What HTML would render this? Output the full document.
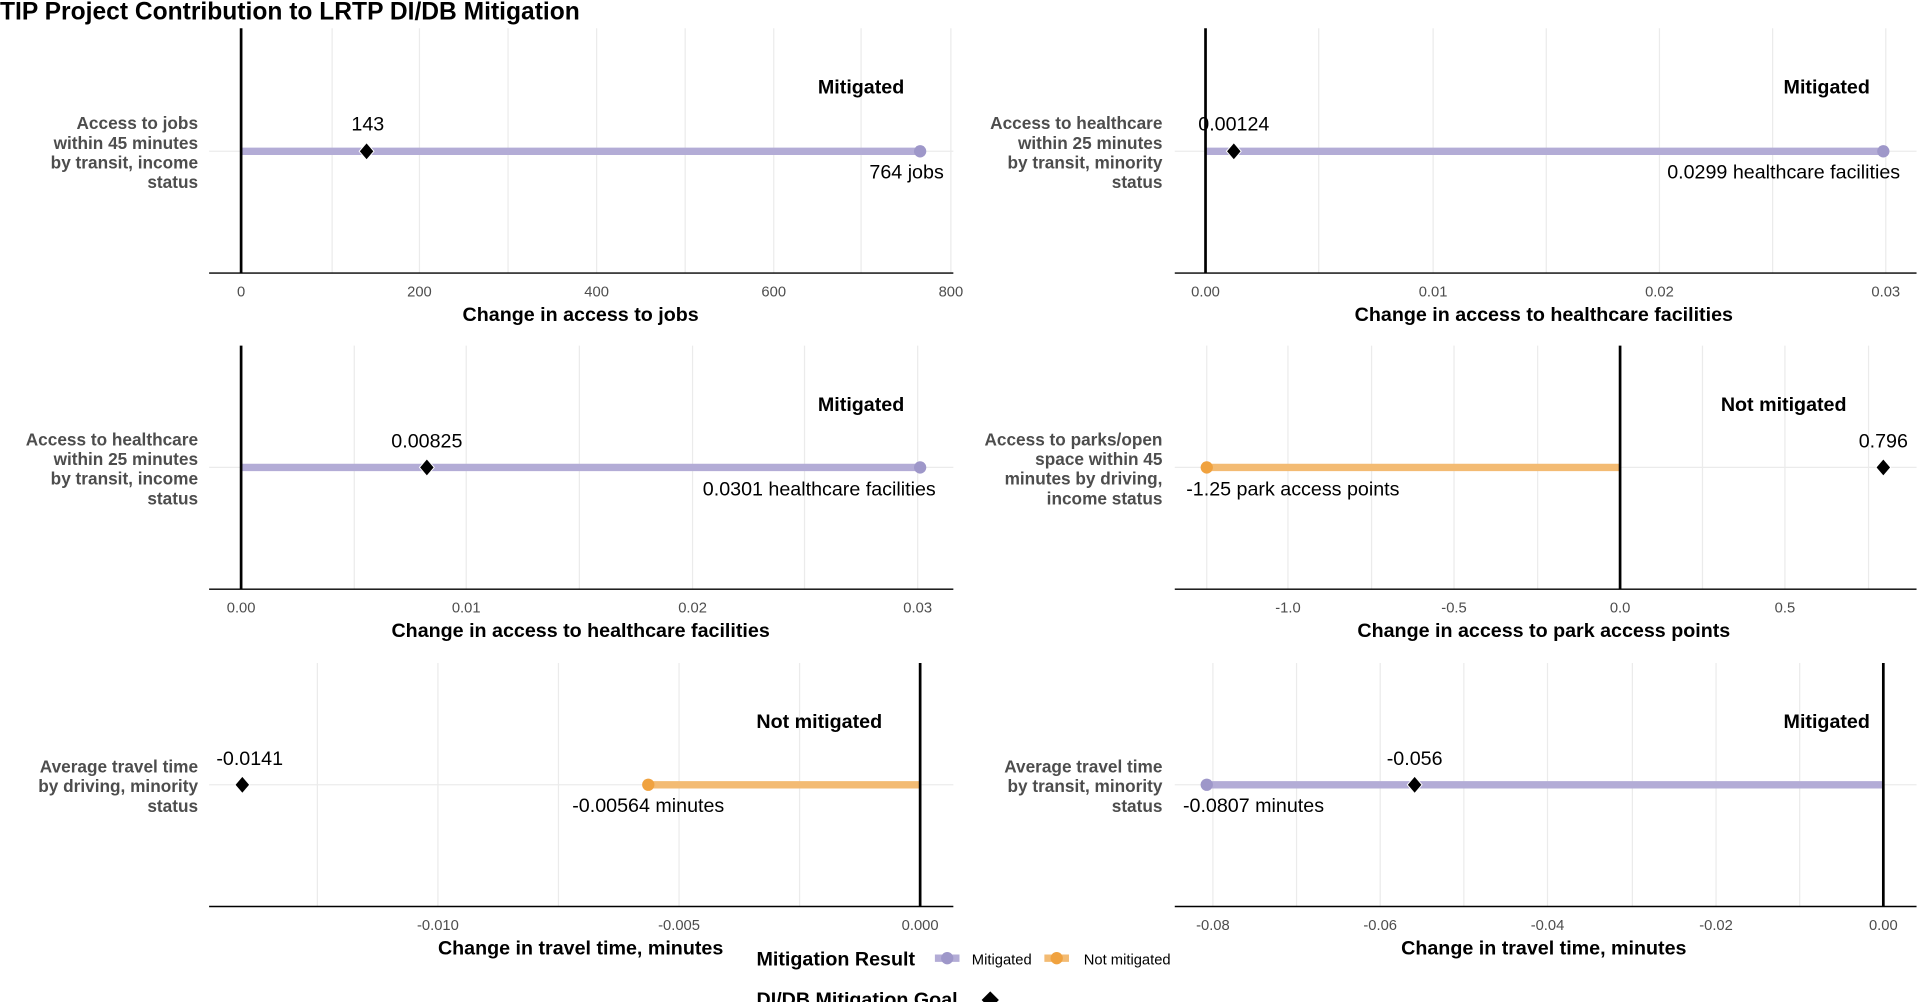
<!DOCTYPE html>
<html><head><meta charset="utf-8"><style>
html,body{margin:0;padding:0;background:#fff;}
svg{display:block;}
text{font-family:"Liberation Sans",Arial,sans-serif;}
.yl{font-size:14px;font-weight:bold;fill:#4d4d4d;text-anchor:end;}
.tk{font-size:12px;fill:#4d4d4d;text-anchor:middle;}
.xt{font-size:16px;font-weight:bold;fill:#000;text-anchor:middle;}
.dl{font-size:16px;fill:#000;text-anchor:middle;}
.st{font-size:16px;font-weight:bold;fill:#000;text-anchor:middle;}
.g{stroke:#ebebeb;stroke-width:1;}
.ax{stroke:#000;stroke-width:1.2;}
.z{stroke:#000;stroke-width:2.2;}
.bm{stroke:#b3acd6;stroke-width:6;}
.bn{stroke:#f3bb73;stroke-width:6;}
</style></head><body>
<svg width="1919" height="1002" viewBox="0 0 1560 814.6" preserveAspectRatio="none" xmlns="http://www.w3.org/2000/svg">
<text x="0" y="16" style="font-size:20px;font-weight:bold">TIP Project Contribution to LRTP DI/DB Mitigation</text>

<!-- Panel 1 -->
<g>
<line class="g" x1="170" y1="123" x2="775" y2="123"/>
<line class="g" x1="270" y1="23" x2="270" y2="222"/><line class="g" x1="341" y1="23" x2="341" y2="222"/><line class="g" x1="413" y1="23" x2="413" y2="222"/><line class="g" x1="485" y1="23" x2="485" y2="222"/><line class="g" x1="557" y1="23" x2="557" y2="222"/><line class="g" x1="629" y1="23" x2="629" y2="222"/><line class="g" x1="700" y1="23" x2="700" y2="222"/><line class="g" x1="773" y1="23" x2="773" y2="222"/>
<line class="bm" x1="196" y1="123" x2="748" y2="123"/>
<circle cx="748" cy="123" r="5" fill="#9e97c9"/>
<line class="z" x1="196" y1="23" x2="196" y2="222"/>
<path d="M298 116 L304 123 L298 130 L292 123Z" fill="#000" stroke="#fff" stroke-width="0.8"/>
<line class="ax" x1="170" y1="222" x2="775" y2="222"/>
<text class="tk" x="196" y="241">0</text><text class="tk" x="341" y="241">200</text><text class="tk" x="485" y="241">400</text><text class="tk" x="629" y="241">600</text><text class="tk" x="773" y="241">800</text>
<text class="xt" x="472" y="261">Change in access to jobs</text>
<text class="dl" x="299" y="106">143</text><text class="dl" x="737" y="145">764 jobs</text>
<text class="st" x="700" y="76">Mitigated</text>
<text class="yl"><tspan x="161" y="105">Access to jobs</tspan><tspan x="161" y="121">within 45 minutes</tspan><tspan x="161" y="137">by transit, income</tspan><tspan x="161" y="153">status</tspan></text>
</g>

<!-- Panel 2 -->
<g>
<line class="g" x1="955" y1="123" x2="1558" y2="123"/>
<line class="g" x1="1072" y1="23" x2="1072" y2="222"/><line class="g" x1="1165" y1="23" x2="1165" y2="222"/><line class="g" x1="1257" y1="23" x2="1257" y2="222"/><line class="g" x1="1349" y1="23" x2="1349" y2="222"/><line class="g" x1="1441" y1="23" x2="1441" y2="222"/><line class="g" x1="1533" y1="23" x2="1533" y2="222"/>
<line class="bm" x1="980" y1="123" x2="1531" y2="123"/>
<circle cx="1531" cy="123" r="5" fill="#9e97c9"/>
<line class="z" x1="980" y1="23" x2="980" y2="222"/>
<path d="M1003 116 L1009 123 L1003 130 L997 123Z" fill="#000" stroke="#fff" stroke-width="0.8"/>
<line class="ax" x1="955" y1="222" x2="1558" y2="222"/>
<text class="tk" x="980" y="241">0.00</text><text class="tk" x="1165" y="241">0.01</text><text class="tk" x="1349" y="241">0.02</text><text class="tk" x="1533" y="241">0.03</text>
<text class="xt" x="1255" y="261">Change in access to healthcare facilities</text>
<text class="dl" x="1003" y="106">0.00124</text><text class="dl" x="1450" y="145">0.0299 healthcare facilities</text>
<text class="st" x="1485" y="76">Mitigated</text>
<text class="yl"><tspan x="945" y="105">Access to healthcare</tspan><tspan x="945" y="121">within 25 minutes</tspan><tspan x="945" y="137">by transit, minority</tspan><tspan x="945" y="153">status</tspan></text>
</g>

<!-- Panel 3 -->
<g>
<line class="g" x1="170" y1="380" x2="775" y2="380"/>
<line class="g" x1="288" y1="281" x2="288" y2="479"/><line class="g" x1="379" y1="281" x2="379" y2="479"/><line class="g" x1="471" y1="281" x2="471" y2="479"/><line class="g" x1="563" y1="281" x2="563" y2="479"/><line class="g" x1="654" y1="281" x2="654" y2="479"/><line class="g" x1="746" y1="281" x2="746" y2="479"/>
<line class="bm" x1="196" y1="380" x2="748" y2="380"/>
<circle cx="748" cy="380" r="5" fill="#9e97c9"/>
<line class="z" x1="196" y1="281" x2="196" y2="479"/>
<path d="M347 373 L353 380 L347 387 L341 380Z" fill="#000" stroke="#fff" stroke-width="0.8"/>
<line class="ax" x1="170" y1="479" x2="775" y2="479"/>
<text class="tk" x="196" y="498">0.00</text><text class="tk" x="379" y="498">0.01</text><text class="tk" x="563" y="498">0.02</text><text class="tk" x="746" y="498">0.03</text>
<text class="xt" x="472" y="518">Change in access to healthcare facilities</text>
<text class="dl" x="347" y="364">0.00825</text><text class="dl" x="666" y="403">0.0301 healthcare facilities</text>
<text class="st" x="700" y="334">Mitigated</text>
<text class="yl"><tspan x="161" y="362">Access to healthcare</tspan><tspan x="161" y="378">within 25 minutes</tspan><tspan x="161" y="394">by transit, income</tspan><tspan x="161" y="410">status</tspan></text>
</g>

<!-- Panel 4 -->
<g>
<line class="g" x1="955" y1="380" x2="1558" y2="380"/>
<line class="g" x1="981" y1="281" x2="981" y2="479"/><line class="g" x1="1047" y1="281" x2="1047" y2="479"/><line class="g" x1="1115" y1="281" x2="1115" y2="479"/><line class="g" x1="1182" y1="281" x2="1182" y2="479"/><line class="g" x1="1250" y1="281" x2="1250" y2="479"/><line class="g" x1="1384" y1="281" x2="1384" y2="479"/><line class="g" x1="1451" y1="281" x2="1451" y2="479"/><line class="g" x1="1519" y1="281" x2="1519" y2="479"/>
<line class="bn" x1="981" y1="380" x2="1317" y2="380"/>
<circle cx="981" cy="380" r="5" fill="#f0a23f"/>
<line class="z" x1="1317" y1="281" x2="1317" y2="479"/>
<path d="M1531 373 L1537 380 L1531 387 L1525 380Z" fill="#000" stroke="#fff" stroke-width="0.8"/>
<line class="ax" x1="955" y1="479" x2="1558" y2="479"/>
<text class="tk" x="1047" y="498">-1.0</text><text class="tk" x="1182" y="498">-0.5</text><text class="tk" x="1317" y="498">0.0</text><text class="tk" x="1451" y="498">0.5</text>
<text class="xt" x="1255" y="518">Change in access to park access points</text>
<text class="dl" x="1531" y="364">0.796</text><text class="dl" x="1051" y="403">-1.25 park access points</text>
<text class="st" x="1450" y="334">Not mitigated</text>
<text class="yl"><tspan x="945" y="362">Access to parks/open</tspan><tspan x="945" y="378">space within 45</tspan><tspan x="945" y="394">minutes by driving,</tspan><tspan x="945" y="410">income status</tspan></text>
</g>

<!-- Panel 5 -->
<g>
<line class="g" x1="170" y1="638" x2="775" y2="638"/>
<line class="g" x1="258" y1="539" x2="258" y2="737"/><line class="g" x1="356" y1="539" x2="356" y2="737"/><line class="g" x1="454" y1="539" x2="454" y2="737"/><line class="g" x1="552" y1="539" x2="552" y2="737"/><line class="g" x1="650" y1="539" x2="650" y2="737"/>
<line class="bn" x1="527" y1="638" x2="748" y2="638"/>
<circle cx="527" cy="638" r="5" fill="#f0a23f"/>
<line class="z" x1="748" y1="539" x2="748" y2="737"/>
<path d="M197 631 L203 638 L197 645 L191 638Z" fill="#000" stroke="#fff" stroke-width="0.8"/>
<line class="ax" x1="170" y1="737" x2="775" y2="737"/>
<text class="tk" x="356" y="756">-0.010</text><text class="tk" x="552" y="756">-0.005</text><text class="tk" x="748" y="756">0.000</text>
<text class="xt" x="472" y="776">Change in travel time,  minutes</text>
<text class="dl" x="203" y="622">-0.0141</text><text class="dl" x="527" y="660">-0.00564 minutes</text>
<text class="st" x="666" y="592">Not mitigated</text>
<text class="yl"><tspan x="161" y="628">Average travel time</tspan><tspan x="161" y="644">by driving, minority</tspan><tspan x="161" y="660">status</tspan></text>
</g>

<!-- Panel 6 -->
<g>
<line class="g" x1="955" y1="638" x2="1558" y2="638"/>
<line class="g" x1="986" y1="539" x2="986" y2="737"/><line class="g" x1="1054" y1="539" x2="1054" y2="737"/><line class="g" x1="1122" y1="539" x2="1122" y2="737"/><line class="g" x1="1190" y1="539" x2="1190" y2="737"/><line class="g" x1="1258" y1="539" x2="1258" y2="737"/><line class="g" x1="1327" y1="539" x2="1327" y2="737"/><line class="g" x1="1395" y1="539" x2="1395" y2="737"/><line class="g" x1="1463" y1="539" x2="1463" y2="737"/>
<line class="bm" x1="981" y1="638" x2="1531" y2="638"/>
<circle cx="981" cy="638" r="5" fill="#9e97c9"/>
<line class="z" x1="1531" y1="539" x2="1531" y2="737"/>
<path d="M1150 631 L1156 638 L1150 645 L1144 638Z" fill="#000" stroke="#fff" stroke-width="0.8"/>
<line class="ax" x1="955" y1="737" x2="1558" y2="737"/>
<text class="tk" x="986" y="756">-0.08</text><text class="tk" x="1122" y="756">-0.06</text><text class="tk" x="1258" y="756">-0.04</text><text class="tk" x="1395" y="756">-0.02</text><text class="tk" x="1531" y="756">0.00</text>
<text class="xt" x="1255" y="776">Change in travel time,  minutes</text>
<text class="dl" x="1150" y="622">-0.056</text><text class="dl" x="1019" y="660">-0.0807 minutes</text>
<text class="st" x="1485" y="592">Mitigated</text>
<text class="yl"><tspan x="945" y="628">Average travel time</tspan><tspan x="945" y="644">by transit, minority</tspan><tspan x="945" y="660">status</tspan></text>
</g>

<!-- Legend -->
<text x="615" y="785" style="font-size:16px;font-weight:bold">Mitigation Result</text>
<line x1="760" y1="779" x2="780" y2="779" stroke="#b3acd6" stroke-width="6"/><circle cx="770" cy="779" r="5" fill="#9e97c9"/>
<text x="790" y="784" style="font-size:12px">Mitigated</text>
<line x1="849" y1="779" x2="869" y2="779" stroke="#f3bb73" stroke-width="6"/><circle cx="859" cy="779" r="5" fill="#f0a23f"/>
<text x="881" y="784" style="font-size:12px">Not mitigated</text>
<text x="615" y="818" style="font-size:16px;font-weight:bold">DI/DB Mitigation Goal</text>
<path d="M805 806 L812 813 L805 820 L798 813Z" fill="#000"/>
</svg>
</body></html>
